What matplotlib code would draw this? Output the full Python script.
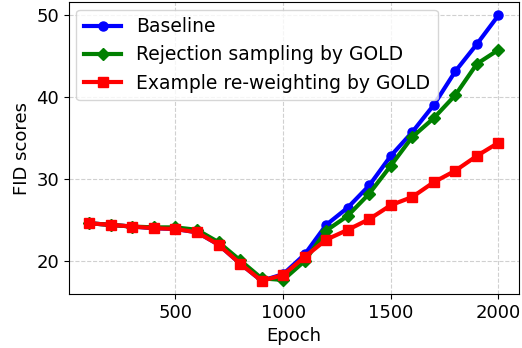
import matplotlib
matplotlib.use("Agg")
import matplotlib.pyplot as plt

epochs = [100, 200, 300, 400, 500, 600, 700, 800, 900, 1000,
          1100, 1200, 1300, 1400, 1500, 1600, 1700, 1800, 1900, 2000]

baseline = [24.6, 24.4, 24.2, 24.0, 23.9, 23.5, 22.0, 19.7, 17.6, 18.4,
            20.8, 24.4, 26.5, 29.2, 32.8, 35.7, 39.0, 43.1, 46.4, 49.9]
rejection = [24.6, 24.4, 24.2, 24.1, 24.1, 23.8, 22.3, 20.1, 17.9, 17.7,
             20.0, 23.7, 25.5, 28.2, 31.6, 35.1, 37.4, 40.2, 44.0, 45.7]
reweight = [24.6, 24.4, 24.2, 24.0, 23.9, 23.5, 22.0, 19.7, 17.6, 18.3,
            20.5, 22.6, 23.8, 25.1, 26.8, 27.8, 29.6, 31.0, 32.8, 34.4]

fig, ax = plt.subplots(figsize=(5.22, 3.48), dpi=100)

ax.plot(epochs, baseline, color='blue', marker='o', lw=3, ms=6.5, label='Baseline')
ax.plot(epochs, rejection, color='green', marker='D', lw=3, ms=6.5,
        label='Rejection sampling by GOLD')
ax.plot(epochs, reweight, color='red', marker='s', lw=3, ms=6.5,
        label='Example re-weighting by GOLD')

ax.grid(True, linestyle='--', color='#d0d0d0', lw=0.8)
ax.set_xticks([500, 1000, 1500, 2000])
ax.set_yticks([20, 30, 40, 50])
ax.tick_params(labelsize=13)
ax.set_xlabel('Epoch', fontsize=13)
ax.set_ylabel('FID scores', fontsize=13)
ax.legend(loc='upper left', fontsize=13.5, borderaxespad=0.4)

fig.subplots_adjust(left=0.132, right=0.994, top=0.994, bottom=0.155)
fig.savefig('out.png')
